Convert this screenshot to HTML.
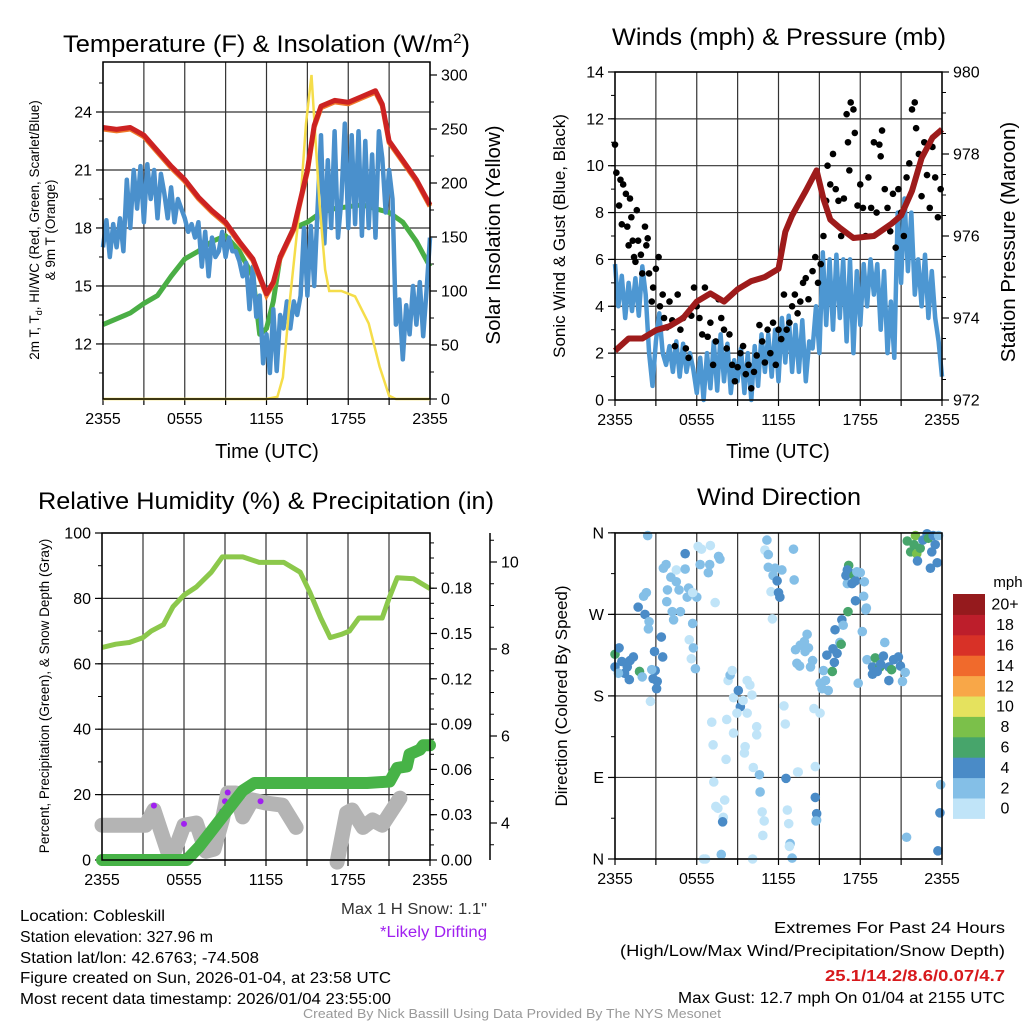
<!DOCTYPE html>
<html><head><meta charset="utf-8">
<style>
body{margin:0;background:#fff;}
svg{display:block;font-family:"Liberation Sans",Arial,sans-serif;}
</style></head>
<body>
<svg id="root" width="1024" height="1024" viewBox="0 0 1024 1024" xmlns="http://www.w3.org/2000/svg">
<rect width="1024" height="1024" fill="#fff"/>
<!-- titles -->
<text x="63" y="52" font-size="24" textLength="407" lengthAdjust="spacingAndGlyphs">Temperature (F) &amp; Insolation (W/m<tspan font-size="14" dy="-9">2</tspan><tspan dy="9">)</tspan></text>
<text x="612" y="45" font-size="24" textLength="334" lengthAdjust="spacingAndGlyphs">Winds (mph) &amp; Pressure (mb)</text>
<text x="38" y="509" font-size="24" textLength="456" lengthAdjust="spacingAndGlyphs">Relative Humidity (%) &amp; Precipitation (in)</text>
<text x="697" y="505" font-size="24" textLength="164" lengthAdjust="spacingAndGlyphs">Wind Direction</text>
<!-- axis titles -->
<text x="267" y="458" font-size="20" text-anchor="middle">Time (UTC)</text>
<text x="778" y="458" font-size="20" text-anchor="middle">Time (UTC)</text>
<g transform="translate(39,230) rotate(-90)">
<text x="0" y="0" font-size="13.5" text-anchor="middle">2m T, T<tspan font-size="9" dy="3">d</tspan><tspan dy="-3">, HI/WC (Red, Green, Scarlet/Blue)</tspan></text>
<text x="0" y="16" font-size="13.5" text-anchor="middle">&amp; 9m T (Orange)</text>
</g>
<text transform="translate(500,235) rotate(-90)" font-size="20.5" text-anchor="middle">Solar Insolation (Yellow)</text>
<text transform="translate(565,236) rotate(-90)" font-size="17" text-anchor="middle">Sonic Wind &amp; Gust (Blue, Black)</text>
<text transform="translate(1015,242) rotate(-90)" font-size="20.5" text-anchor="middle">Station Pressure (Maroon)</text>
<text transform="translate(49,696) rotate(-90)" font-size="13.5" text-anchor="middle">Percent, Precipitation (Green), &amp; Snow Depth (Gray)</text>
<text transform="translate(567,696) rotate(-90)" font-size="17" text-anchor="middle">Direction (Colored By Speed)</text>
<text x="1008" y="587" font-size="15" text-anchor="middle">mph</text>
<!-- footers -->
<text x="341" y="914" font-size="15.5" textLength="146" lengthAdjust="spacingAndGlyphs" fill="#333">Max 1 H Snow: 1.1"</text>
<text x="380" y="937" font-size="15.5" textLength="107" lengthAdjust="spacingAndGlyphs" fill="#a020f0">*Likely Drifting</text>
<g font-size="15.5">
<text x="20" y="921" textLength="145" lengthAdjust="spacingAndGlyphs">Location: Cobleskill</text>
<text x="20" y="942" textLength="193" lengthAdjust="spacingAndGlyphs">Station elevation: 327.96 m</text>
<text x="20" y="963" textLength="239" lengthAdjust="spacingAndGlyphs">Station lat/lon: 42.6763; -74.508</text>
<text x="20" y="983" textLength="371" lengthAdjust="spacingAndGlyphs">Figure created on Sun, 2026-01-04, at 23:58 UTC</text>
<text x="20" y="1004" textLength="371" lengthAdjust="spacingAndGlyphs">Most recent data timestamp: 2026/01/04 23:55:00</text>
</g>
<g font-size="15.5">
<text x="774" y="933" textLength="231" lengthAdjust="spacingAndGlyphs">Extremes For Past 24 Hours</text>
<text x="620" y="956" textLength="385" lengthAdjust="spacingAndGlyphs">(High/Low/Max Wind/Precipitation/Snow Depth)</text>
<text x="825" y="981" fill="#d7191c" font-weight="bold" textLength="180" lengthAdjust="spacingAndGlyphs">25.1/14.2/8.6/0.07/4.7</text>
<text x="678" y="1003" textLength="327" lengthAdjust="spacingAndGlyphs">Max Gust: 12.7 mph On 01/04 at 2155 UTC</text>
</g>
<text x="303" y="1018" font-size="12.5" fill="#999" textLength="418" lengthAdjust="spacingAndGlyphs">Created By Nick Bassill Using Data Provided By The NYS Mesonet</text>
<g id="layer"></g>
</svg>
<script>
// ---------- data ----------
const xTickLabels = ["2355","0555","1155","1755","2355"];
// Panel 1
const tHours = [0,1,2,3,4,5,6,7,8,9,10,11,11.5,12,12.5,13,14,15,15.5,16,17,18,19,20,20.5,21,22,23,24];
const tempVals = [23.2,23.1,23.2,22.8,22,21.2,20.5,19.6,18.9,18.3,17.3,16.4,15.5,14.6,15.2,16.5,18,21,23.3,24.3,24.6,24.5,24.8,25.1,24.4,22.5,21.5,20.5,19.2];
const dHours = [0,1,2,3,4,5,6,7,8,9,10,11,11.5,12,12.5,13,14,15,16,17,18,19,20,21,22,23,24];
const dewVals = [13,13.3,13.6,14.1,14.5,15.5,16.4,16.8,17.3,17.6,16.8,15.5,12.5,12.8,14.2,16.5,18,18.3,18.8,19,19.1,19.2,19,18.8,18.3,17.3,16];
// quarter-hour samples, 0..24
const wcVals = [17,18.4,16.5,18.2,17,18.5,16.8,20.5,18,21,19,21.2,18.3,21.3,19.5,21.0,18.5,20.8,19.8,18.5,20.1,18.3,19.5,19,18.5,17.8,18.2,17.5,18.3,16,17.8,15.5,17.5,16.5,16.8,17.8,16.5,17.5,16.8,16.8,16.3,15.5,16.2,13.8,16,13.4,14.5,11,12.5,10.5,13.8,10.6,13.5,12.8,14.2,12.8,14.2,13.5,14.5,18,14.5,18.1,15,19,22.8,17.2,21.5,18,23,17.5,19.5,23.4,18,22.8,18.2,23,17.6,22.5,18,21.8,17.5,23,21.6,18.8,21,19.5,13,14.3,11.2,14,12.5,15,13,15.2,12.4,14.8,17.5];
const solHours = [0,12,12.8,13.2,13.7,14.2,14.5,14.9,15.3,15.6,15.9,16.3,16.6,17.5,18.5,19.5,20.3,21,21.5,24];
const solVals = [0,0,2,20,90,150,185,255,300,240,180,120,100,100,95,70,30,3,0,0];
const tempTicks = [12,15,18,21,24];
const solTicks = [0,50,100,150,200,250,300];
// Panel 2
const pHours = [0,1,2,3,4,5,6,7,8,9,10,11,12,12.5,13,13.5,14,14.8,15.3,15.8,16.5,17.5,19,20.3,21,21.8,22.5,23.3,24];
const presVals = [973.2,973.5,973.5,973.7,973.8,974.0,974.4,974.6,974.4,974.7,974.9,975.0,975.2,976.1,976.5,976.8,977.1,977.6,976.9,976.4,976.2,975.95,976.0,976.3,976.5,977.1,977.9,978.4,978.6];
// quarter-hour samples, 0..24
const windVals = [5.8,4.0,5.3,3.5,5.0,3.8,5.2,3.6,5.7,4.5,2.0,0.6,2.5,3.7,2.0,1.5,2.3,1.2,2.5,1.0,2.4,1.2,2.0,1.3,0.3,1.8,0.0,2.0,0.5,2.5,0.4,2.8,0.8,2.4,0.3,1.7,0.8,2.2,0.3,2.0,0.0,2.3,0.6,2.8,1.2,2.8,1.0,3.0,0.8,3.5,1.6,3.6,1.2,3.2,1.2,3.4,0.8,2.5,2.2,4.0,2.0,6.3,3.2,6.0,3.0,6.2,3.5,6.0,2.5,6.0,2.0,5.5,3.2,5.8,4.0,6.0,4.5,5.8,3.0,5.5,2.0,4.2,1.8,8.0,5.0,8.6,5.5,8.0,4.5,6.0,4.0,6.2,3.5,5.5,3.5,2.5,1.0];
const gustHours = [0,0.1,0.3,0.4,0.5,0.6,0.8,0.9,1.0,1.1,1.2,1.3,1.4,1.5,1.6,1.7,1.9,2.0,2.2,2.3,2.4,2.5,2.7,2.8,3.0,3.2,3.3,3.5,3.6,3.8,4.0,4.2,4.4,4.6,4.8,5.0,5.2,5.4,5.6,5.8,6.0,6.2,6.4,6.6,6.8,7.0,7.2,7.4,7.6,7.8,8.0,8.2,8.4,8.6,8.8,9.0,9.2,9.4,9.6,9.8,10.0,10.2,10.4,10.6,10.8,11.0,11.2,11.4,11.6,11.8,12.0,12.2,12.4,12.6,12.8,13.0,13.2,13.4,13.6,13.8,14.0,14.2,14.5,14.7,14.9,15.1,15.3,15.5,15.6,15.8,16.0,16.2,16.4,16.6,16.8,17.0,17.1,17.2,17.3,17.5,17.6,17.8,18.0,18.2,18.4,18.6,18.8,19.0,19.2,19.4,19.5,19.6,19.8,20.0,20.2,20.4,20.6,20.8,21.0,21.2,21.4,21.6,21.8,22.0,22.1,22.3,22.5,22.7,22.9,23.1,23.3,23.5,23.7,23.9];
const gustVals = [10.9,9.7,8.3,9.4,7.5,9.2,8.8,7.4,6.6,8.6,7.8,6.8,6.1,5.9,8.1,6.8,6.2,5.4,7.4,6.6,6.9,5.4,4.2,4.8,5.6,6.1,4.0,4.5,3.5,3.1,4.2,3.4,2.3,4.5,3.0,3.5,2.2,1.8,3.6,4.8,4.0,3.5,2.8,4.8,2.7,3.3,1.5,2.5,4.3,3.5,3.0,2.2,2.8,1.5,0.8,1.4,2.0,2.3,1.1,1.5,0.5,1.2,1.9,3.2,2.5,1.6,3.0,2.0,3.3,1.5,3.0,2.6,4.5,3.0,3.3,4.0,4.5,3.7,4.2,5.0,5.2,4.3,5.5,6.1,5.0,5.8,7.0,8.5,10.0,9.2,10.5,9.0,8.5,7.0,8.6,12.2,11.0,9.8,12.7,12.4,11.4,8.3,9.2,8.2,7.0,9.5,8.2,11.0,8.0,10.9,10.4,11.5,9.0,8.2,7.2,8.8,6.5,9.0,8.0,7.0,9.5,10.1,12.4,12.7,11.6,10.5,8.7,11.0,9.6,8.2,10.8,9.5,7.8,9.0];
const windTicks = [0,2,4,6,8,10,12,14];
const presTicks = [972,974,976,978,980];
// Panel 3
const rhHours = [0,1,2,3,3.6,4.5,5.2,6,6.9,8,8.8,10.3,11.5,13.3,14.5,15.2,16,16.7,17.5,18.1,18.8,20.5,21,21.6,22.8,24];
const rhVals = [65,66,66.5,68,70,72,77.5,81,83.5,88,92.7,92.7,91,91,88,82,74,68,69,70,74,74,80,86.3,86,83];
const prHours = [0,6.2,7.1,10.3,11.15,19.4,21.05,21.6,22.3,22.5,23.25,23.5,24];
const prVals = [0,0,0.0086,0.046,0.051,0.051,0.052,0.061,0.062,0.07,0.073,0.076,0.076];
const snowHours1 = [0,3.2,3.8,4.8,5.3,6.0,6.9,7.6,8.2,8.8,9.2,9.8,10.3,11.0,12.0,13.2,14.2];
const snowVals1 = [3.95,3.95,4.3,3.35,3.35,3.95,4.0,3.35,3.4,4.07,4.69,4.69,4.14,4.53,4.46,4.41,3.9];
const snowHours2 = [17.2,17.9,18.3,19.1,19.8,20.5,21.8];
const snowVals2 = [3.1,4.23,4.3,3.9,4.07,3.95,4.57];
const driftHours = [3.8,6.0,8.8,9.2,9.0,11.6];
const driftVals = [4.4,3.98,4.27,4.7,4.5,4.5];
const rhTicks = [0,20,40,60,80,100];
const prTicks = [0,0.03,0.06,0.09,0.12,0.15,0.18];
const snowTicks = [4,6,8,10];
// Panel 4
const dirHours = [0,0.3,0,0.5,0.9,1.1,1.35,0.7,1.05,1.8,2.0,0.25,2.4,1.7,2.3,2.1,2.2,2.5,2.45,3.4,2.9,2.95,2.8,3.1,3.05,2.6,3.5,2.7,3.55,3.75,4.1,3.85,3.8,4.2,4.3,4.5,4.5,4.7,4.8,5.15,5.15,5.4,5.3,5.7,5.45,5.75,5.9,5.6,6.0,5.7,6.1,6.35,7,6.25,6.85,6.95,7.6,7.7,7.35,7.1,7.2,7.25,7.4,7.55,7.95,7.9,7.8,8.05,8.15,8.2,8.3,8.45,8.6,8.7,8.7,9.05,9.2,8.95,9.4,9.7,9.9,10.05,9.7,9.55,9.5,10.4,10.4,10.15,10.6,10.65,10.8,10.95,10.85,10.1,6.5,6.65,11.15,11.0,11.25,11.25,11.75,11.6,11.9,11.45,12.0,12.1,12.25,11.55,13.1,13.15,12.4,12.5,12.55,12.65,12.75,12.85,12.8,13,13.4,13.45,13.25,13.6,13.9,14.1,14.2,13.95,13.35,13.55,14.35,14.5,14.6,15.05,14.7,14.8,14.8,14.7,14.75,15.05,15.3,15.45,15.2,15.65,15.55,15.95,16.0,16.1,16.3,16.5,16.6,16.15,16.65,16.75,17.1,17.05,16.95,17.15,17.05,17.3,17.55,17.65,17.75,18.0,17.65,18.3,18.25,18.4,18.45,18.15,17.85,17.4,18.5,18.9,19.1,19.45,19.7,19.8,20.1,20.3,20.45,20.8,20.95,20.1,18.9,19.25,21.1,21.3,19.5,21.45,22.05,21.7,22.15,21.95,22.4,22.6,22.9,23.0,23.25,23.5,23.65,23.15,22.2,23.35,23.75,23.9,23.85,23.7,21.4];
const dirVals = [226,233,212,218,212,219,223,205,198,207,201,205,357,278,294,290,270,262,254,245,229,208,199,196,188,174,223,209,321,325,311,297,284,273,264,306,319,297,273,337,320,299,289,260,242,233,210,221,289,294,345,342,346,325,316,325,334,331,283,151,126,85,58,56,46,41,5,65,110,154,197,203,208,178,139,186,168,161,175,197,192,181,161,124,117,146,137,101,93,74,52,42,26,0,0,0,352,341,336,322,321,313,307,295,294,289,319,265,342,308,169,149,89,54,39,17,14,1,96,96,231,236,240,248,233,229,216,213,212,219,166,161,102,43,50,68,42,194,208,197,188,186,225,207,232,217,227,239,237,253,264,258,273,304,313,324,319,315,313,307,317,316,285,306,290,275,277,251,194,304,220,212,222,212,224,239,212,209,220,223,213,197,204,207,196,206,215,351,357,339,337,347,343,352,359,354,339,347,327,321,329,357,357,82,51,9,24];
const dirSpeeds = [6,4,4,4,4,4,4,4,4,6,3,3,3,4,3,3,4,3,2,5,4,4,4,4,5,1,4,2,2,3,3,3,3,3,2,3,1,3,3,4,3,2,3,2,1,2,2,1,2,1,1,1,1,3,2,3,2,3,1,1,1,1,1,1,1,4,3,1,1,1,1,3,1,1,1,4,4,1,1,1,1,1,1,1,1,1,1,1,3,3,1,1,1,1,1,1,3,1,3,3,3,2,4,1,4,4,2,1,3,3,1,1,4,1,1,3,1,3,1,1,3,3,3,3,3,3,2,2,3,3,1,1,1,3,4,4,3,2,3,3,3,3,4,6,4,4,4,3,6,4,4,3,6,3,4,6,4,4,6,4,3,3,4,3,3,3,2,3,3,4,3,4,6,6,4,3,4,6,4,4,4,4,4,4,3,3,4,7,8,6,8,6,6,4,4,6,4,4,4,4,4,4,3,3,4,4,3];
const dirTicks = ["N","E","S","W","N"];
const cbLabels = ["0","2","4","6","8","10","12","14","16","18","20+"];
const cbColors = ["#c0e4f8","#84bfe7","#4a8bc7","#47a56b","#7bc04a","#e5e25e","#f8a748","#f06a2c","#d83127","#bd1e2b","#951a1d"];

// ---------- helpers ----------
const NS = "http://www.w3.org/2000/svg";
const layer = document.getElementById('layer');
function el(tag, attrs){const e=document.createElementNS(NS,tag);for(const k in attrs)e.setAttribute(k,attrs[k]);layer.appendChild(e);return e;}
function xs(x0,x1){return h=>x0+h*(x1-x0)/24;}
function pathFrom(hs,vs,X,Y){return hs.map((h,i)=>(i?'L':'M')+X(h).toFixed(1)+','+Y(vs[i]).toFixed(1)).join(' ');}
function quarterPath(vs,X,Y){return vs.map((v,i)=>(i?'L':'M')+X(i*24/(vs.length-1)).toFixed(1)+','+Y(v).toFixed(1)).join(' ');}

function frame(prefix,x0,x1,top,bot,gridY){
  const X=xs(x0,x1);
  for(let i=0;i<=8;i++){
    const gx=X(i*3);
    const g=el('line',{x1:gx,x2:gx,y1:top,y2:bot,stroke:'#333','stroke-width':1.2});
    
    
    const t=el('line',{x1:gx,x2:gx,y1:bot,y2:bot+6,stroke:'#000','stroke-width':1.2});
    
    
  }
  gridY.forEach(gy=>{
    const g=el('line',{x1:x0,x2:x1,y1:gy,y2:gy,stroke:'#333','stroke-width':1.2});
    
    
  });
  xTickLabels.forEach((s,i)=>{
    const t=el('text',{x:X(i*6),y:bot+25,'font-size':16,'text-anchor':'middle'});t.textContent=s;
    
    
  });
  return X;
}
function borders(prefix,x0,x1,top,bot){
  const r=el('rect',{x:x0,y:top,width:x1-x0,height:bot-top,fill:'none',stroke:'#000','stroke-width':1.5});
  
  
}
function yAxis(prefix,ax,ticks,Y,labels,side,minorStep,lo,hi,fs){
  const dir=side==='left'?-1:1;
  ticks.forEach((v,i)=>{
    const y=Y(v);
    const t=el('line',{x1:ax,x2:ax+dir*7,y1:y,y2:y,stroke:'#000','stroke-width':1.2});
    
    
    const l=el('text',{x:ax+dir*11,y:y+5.5,'font-size':fs||16,'text-anchor':side==='left'?'end':'start'});l.textContent=labels[i];
    
    
  });
  if(minorStep){for(let v=lo;v<=hi+1e-9;v+=minorStep){const y=Y(v);
    const m=el('line',{x1:ax,x2:ax+dir*4,y1:y,y2:y,stroke:'#000','stroke-width':1});
    
    }}
}

// ---------- Panel 1 ----------
{
  const x0=103,x1=430,top=62,bot=399;
  const yT=v=>112+(24-v)*19.33, yI=v=>399-v*1.08;
  const X=frame('p1',x0,x1,top,bot,tempTicks.map(yT));
  yAxis('p1-temp-axis',x0,tempTicks,yT,tempTicks.map(String),'left',1.5,10.5,25.5);
  yAxis('p1-solar-axis',x1,solTicks,yI,solTicks.map(String),'right',25,0,300);
  const dew=el('path',{d:pathFrom(dHours,dewVals,X,yT),fill:'none',stroke:'#4aae45','stroke-width':5,'stroke-linejoin':'round'});
  
  
  const wc=el('path',{d:quarterPath(wcVals,X,yT),fill:'none',stroke:'#4a90cc','stroke-width':4.5,'stroke-linejoin':'round'});
  
  
  const sol=el('path',{d:pathFrom(solHours,solVals,X,yI),fill:'none',stroke:'#f5dd4a','stroke-width':2.5});
  
  
  const or=el('path',{d:pathFrom(tHours,tempVals,X,v=>yT(v)+1.5),fill:'none',stroke:'#f07a2a','stroke-width':5});
  
  
  const tl=el('path',{d:pathFrom(tHours,tempVals,X,yT),fill:'none',stroke:'#cc2222','stroke-width':5,'stroke-linejoin':'round'});
  
  
  borders('p1',x0,x1,top,bot);
}
// ---------- Panel 2 ----------
{
  const x0=615,x1=942,top=72,bot=400;
  const yW=v=>400-v*23.43, yP=v=>400-(v-972)*41;
  const X=frame('p2',x0,x1,top,bot,windTicks.map(yW));
  yAxis('p2-wind-axis',x0,windTicks,yW,windTicks.map(String),'left',1,0,14);
  yAxis('p2-pressure-axis',x1,presTicks,yP,presTicks.map(String),'right',0.5,972,980);
  const w=el('path',{d:quarterPath(windVals,X,yW),fill:'none',stroke:'#4d97d2','stroke-width':4.5,'stroke-linejoin':'round'});
  
  
  gustHours.forEach((h,i)=>{
    const c=el('circle',{cx:X(h),cy:yW(gustVals[i]),r:3.3,fill:'#000'});
    
    
  });
  const p=el('path',{d:pathFrom(pHours,presVals,X,yP),fill:'none',stroke:'#9e1b1b','stroke-width':6,'stroke-linejoin':'round'});
  
  
  borders('p2',x0,x1,top,bot);
}
// ---------- Panel 3 ----------
{
  const x0=102,x1=430,top=533,bot=860;
  const yR=v=>860-v*3.27, yPr=v=>860-v*1510, yS=v=>823-(v-4)*43.5;
  const X=frame('p3',x0,x1,top,bot,rhTicks.map(yR));
  yAxis('p3-rh-axis',x0,rhTicks,yR,rhTicks.map(String),'left',10,0,100);
  yAxis('p3-precip-axis',x1,prTicks,yPr,prTicks.map(v=>v.toFixed(2)),'right',0.01,0,0.21);
  const sx=490;
  const sa=el('line',{x1:sx,x2:sx,y1:533,y2:860,stroke:'#000','stroke-width':1.5});
  
  
  yAxis('p3-snow-axis',sx,snowTicks,yS,snowTicks.map(String),'right',0.5,3.5,10.5);
  const s1=el('path',{d:pathFrom(snowHours1,snowVals1,X,yS),fill:'none',stroke:'#b4b4b4','stroke-width':15,'stroke-linejoin':'round','stroke-linecap':'round'});
  
  
  const s2=el('path',{d:pathFrom(snowHours2,snowVals2,X,yS),fill:'none',stroke:'#b4b4b4','stroke-width':15,'stroke-linejoin':'round','stroke-linecap':'round'});
  
  
  driftHours.forEach((h,i)=>{
    const c=el('circle',{cx:X(h),cy:yS(driftVals[i]),r:3,fill:'#a020f0'});
    
    
  });
  const pr=el('path',{d:pathFrom(prHours,prVals,X,yPr),fill:'none',stroke:'#47b347','stroke-width':12,'stroke-linejoin':'round','stroke-linecap':'round'});
  
  
  const rh=el('path',{d:pathFrom(rhHours,rhVals,X,yR),fill:'none',stroke:'#8cc84b','stroke-width':5,'stroke-linejoin':'round'});
  
  
  borders('p3',x0,x1,top,bot);
}
// ---------- Panel 4 ----------
{
  const x0=615,x1=942,top=533,bot=859;
  const yD=v=>859-v*0.906;
  const dt=[0,90,180,270,360];
  const X=frame('p4',x0,x1,top,bot,dt.map(yD));
  yAxis('p4-direction-axis',x0,dt,yD,dirTicks,'left',45,0,360);
  dirHours.forEach((h,i)=>{
    const bin=Math.min(10,Math.floor(dirSpeeds[i]/2));
    const c=el('circle',{cx:X(h),cy:yD(dirVals[i]),r:4.8,fill:cbColors[bin]});
    
    
  });
  borders('p4',x0,x1,top,bot);
  const cbTop=594,cbH=20.4;
  cbColors.forEach((col,i)=>{
    const y=cbTop+(10-i)*cbH;
    const r=el('rect',{x:953,y:y,width:32,height:cbH+0.5,fill:col});
    
    
    const t=el('text',{x:1005,y:y+cbH/2+5.5,'font-size':16,'text-anchor':'middle'});t.textContent=cbLabels[i];
    
    
  });
}
</script>
</body></html>
